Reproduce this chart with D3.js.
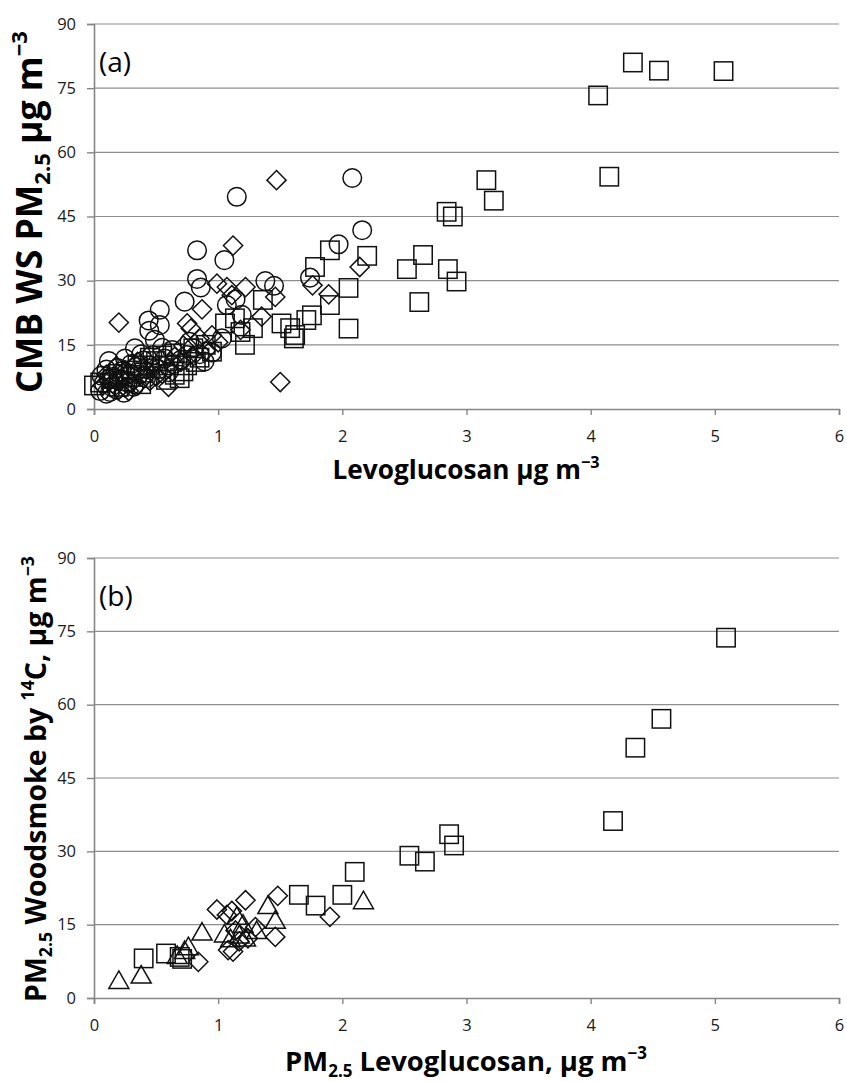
<!DOCTYPE html>
<html>
<head>
<meta charset="utf-8">
<script src="https://cdn.jsdelivr.net/npm/d3@7"></script>
<style>
  body { margin: 0; background: #fff; }
  svg text { font-family: "Open Sans", Lato, sans-serif; }
</style>
</head>
<body>
<div id="chart"></div>
<script>
// panel (a) series: CMB woodsmoke PM2.5 vs levoglucosan
var aCircles = [[1.15,49.6],[2.08,54.0],[2.16,41.8],[0.83,37.1],[1.05,34.8],[1.97,38.5],[1.74,30.7],[0.83,30.4],[0.86,28.4],
  [1.38,29.9],[1.45,28.8],[0.73,25.1],[0.53,23.2],[1.07,24.3],[1.14,25.6],[1.19,22.0],[0.44,20.7],[0.53,19.6],[0.445,18.3],
  [1.03,16.5],[0.77,15.7],[0.80,14.2],[0.89,11.1],[0.75,12.6],[0.63,13.8],[0.12,11.2],[0.10,9.2],[0.33,14.2],[0.38,12.8],
  [0.49,16.2],[0.57,11.8],[0.64,10.5],[0.45,10.2],[0.30,10.5],[0.22,8.8],[0.16,7.5],[0.08,6.0],[0.05,4.2],[0.10,3.6],
  [0.18,4.6],[0.27,6.2],[0.36,8.0],[0.42,7.2],[0.52,9.3],[0.60,8.6],[0.70,11.5],[0.95,13.2],[0.25,11.8],[0.14,5.2],
  [0.20,6.8],[0.32,5.2],[0.40,11.3],[0.85,12.8],[0.55,14.3],[0.06,7.8],[0.13,4.0],[0.24,3.8],[0.34,9.8],[0.47,12.6],
  [0.19,9.6],[0.29,8.2],[0.12,7.0]];
var aDiamonds = [[1.47,53.5],[1.12,38.2],[0.99,29.3],[1.07,28.5],[1.11,26.6],[1.22,28.5],[1.46,26.2],[2.14,33.2],[1.76,28.9],
  [1.89,26.8],[0.87,23.3],[1.35,21.6],[1.18,18.5],[0.20,20.2],[0.75,20.0],[0.78,18.8],[1.50,6.3],[0.95,17.2],[1.00,15.6],
  [0.90,13.6],[0.80,12.4],[0.70,11.0],[0.65,12.2],[0.60,9.5],[0.55,8.2],[0.50,10.2],[0.45,6.6],[0.40,7.2],[0.35,5.6],
  [0.30,6.0],[0.25,5.0],[0.20,4.5],[0.15,6.0],[0.10,8.0],[0.12,6.6],[0.22,7.2],[0.25,9.0],[0.35,11.0],[0.50,7.6],
  [0.60,5.2],[0.28,4.2],[0.42,9.2],[0.72,14.8],[0.85,16.5],[0.18,10.0],[0.07,5.5]];
var aSquares = [[5.07,79.0],[4.55,79.1],[4.34,81.0],[4.06,73.3],[4.15,54.3],[3.16,53.5],[3.22,48.7],[2.84,46.1],[2.89,45.0],
  [2.65,36.0],[2.52,32.7],[2.85,32.7],[2.92,29.8],[2.62,25.0],[1.90,37.1],[2.20,35.8],[1.78,33.2],[1.36,25.5],[1.90,24.3],
  [2.05,28.3],[1.755,21.9],[2.05,18.8],[1.51,20.0],[1.58,18.9],[1.62,17.3],[1.61,16.5],[1.71,20.8],[1.055,20.0],[1.135,21.2],
  [1.28,18.9],[1.216,15.0],[0.95,13.4],[0.69,7.2],[0.0,5.5],[0.05,6.2],[0.15,7.0],[0.20,8.2],[0.25,6.5],[0.30,9.0],
  [0.35,10.2],[0.40,8.5],[0.45,9.5],[0.50,11.2],[0.55,12.5],[0.60,10.2],[0.65,13.0],[0.72,8.8],[0.75,10.2],[0.80,14.2],
  [0.85,12.0],[0.90,15.0],[0.20,5.2],[0.30,7.5],[0.45,12.0],[0.38,5.8],[0.58,6.8],[0.65,8.0],[0.82,11.0],[1.18,18.0]];

// panel (b) series: 14C woodsmoke vs levoglucosan
var bSquares = [[0.40,8.1],[0.58,9.1],[0.69,8.4],[0.71,8.0],[1.65,21.1],[1.785,18.9],[2.00,21.1],[2.10,25.8],[2.54,29.1],
  [2.665,27.9],[2.86,33.5],[2.90,31.2],[4.18,36.2],[4.36,51.2],[4.57,57.1],[5.09,73.7]];
var bTriangles = [[0.20,3.7],[0.38,4.8],[0.67,8.8],[0.73,9.8],[0.76,10.6],[0.87,13.6],[1.05,13.2],[1.15,16.8],[1.20,15.2],
  [1.17,13.0],[1.22,12.4],[1.31,13.9],[1.40,19.0],[1.46,16.0],[2.17,20.0],[1.10,12.2]];
var bDiamonds = [[0.84,7.4],[0.99,18.1],[1.07,17.0],[1.08,9.8],[1.12,9.5],[1.22,20.0],[1.17,11.6],[1.24,12.2],[1.48,20.9],
  [1.46,12.5],[1.90,16.6],[1.14,13.8],[1.11,17.8],[1.30,14.5]];

var xTicks = [0, 1, 2, 3, 4, 5, 6];
var yTicks = [0, 15, 30, 45, 60, 75, 90];

var W = 847, H = 1082;
var svg = d3.select("#chart").append("svg")
    .attr("width", W).attr("height", H);
svg.append("rect").attr("width", W).attr("height", H).attr("fill", "#fff");

// marker shapes
var shapes = {
  circle: function(g) { g.append("circle").attr("r", 9.3); },
  square: function(g) { g.append("rect").attr("x", -9.2).attr("y", -9.2).attr("width", 18.4).attr("height", 18.4); },
  diamond: function(g) { g.append("path").attr("d", "M0,-9.6L9.6,0L0,9.6L-9.6,0Z"); },
  triangle: function(g) { g.append("path").attr("d", "M0,-9L10,8.5L-10,8.5Z"); }
};

function drawPanel(top, bottom, label, series) {
  var x = d3.scaleLinear().domain([0, 6]).range([94, 839]);
  var y = d3.scaleLinear().domain([0, 90]).range([bottom, top]);
  var g = svg.append("g");

  // gridlines
  g.append("g").selectAll("line")
    .data(yTicks.slice(1)).enter().append("line")
      .attr("x1", 94).attr("x2", 839)
      .attr("y1", function(d) { return y(d); })
      .attr("y2", function(d) { return y(d); })
      .attr("stroke", "#8e8e8e").attr("stroke-width", 1.2);

  // axes
  var yAxis = g.append("g")
    .attr("transform", "translate(94,0)")
    .call(d3.axisLeft(y).tickValues(yTicks).tickFormat(d3.format("d")).tickSize(7).tickPadding(11));
  var xAxis = g.append("g")
    .attr("transform", "translate(0," + bottom + ")")
    .call(d3.axisBottom(x).tickValues(xTicks).tickFormat(d3.format("d")).tickSize(6).tickPadding(15));
  [xAxis, yAxis].forEach(function(a) {
    a.select(".domain").attr("stroke", "#868686").attr("stroke-width", 1.6);
    a.selectAll(".tick line").attr("stroke", "#868686").attr("stroke-width", 1.4);
    a.selectAll(".tick text").attr("font-size", 16.5).attr("fill", "#1a1a1a")
      .style("font-family", "'Open Sans', Lato, sans-serif");
  });

  g.append("text").attr("x", 99).attr("y", top + 48)
    .attr("font-size", 28).attr("fill", "#000").text(label);

  series.forEach(function(s) {
    g.append("g").selectAll("g")
      .data(s.data).enter().append("g")
        .attr("transform", function(d) { return "translate(" + x(d[0]) + "," + y(d[1]) + ")"; })
        .each(function() { shapes[s.shape](d3.select(this)); })
      .selectAll("*")
        .attr("fill", "none").attr("stroke", "#111").attr("stroke-width", 1.5);
  });
}

drawPanel(24, 409, "(a)", [
  {shape: "square", data: aSquares},
  {shape: "diamond", data: aDiamonds},
  {shape: "circle", data: aCircles}
]);
drawPanel(558, 998, "(b)", [
  {shape: "square", data: bSquares},
  {shape: "diamond", data: bDiamonds},
  {shape: "triangle", data: bTriangles}
]);

// axis titles with sub/superscripts, sized to the length they take in the chart
function title(x, y, rotate, parts, targetLen) {
  var t = svg.append("text")
    .attr("transform", "translate(" + x + "," + y + ")" + (rotate ? " rotate(-90)" : ""))
    .attr("text-anchor", "middle").attr("font-weight", "bold").attr("fill", "#000");
  function build(f) {
    t.selectAll("*").remove();
    t.attr("font-size", f);
    parts.forEach(function(p) {
      var ts = t.append("tspan").text(p[0]);
      if (p[1] === "sub") ts.attr("font-size", f * 0.62).attr("dy", f * 0.22);
      if (p[1] === "sup") ts.attr("font-size", f * 0.62).attr("dy", -f * 0.42);
      if (p[1] === "back") ts.attr("dy", -f * 0.22);
      if (p[1] === "down") ts.attr("dy", f * 0.42);
    });
  }
  build(20);
  var w = t.node().getBBox().width;
  build(20 * targetLen / w);
}

title(466, 479, false, [["Levoglucosan μg m"], ["−3", "sup"]], 267);
title(42, 212, true, [["CMB WS PM"], ["2.5", "sub"], [" μg m", "back"], ["−3", "sup"]], 362);
title(466, 1071, false, [["PM"], ["2.5", "sub"], [" Levoglucosan, μg m", "back"], ["−3", "sup"]], 362);
title(46, 779, true, [["PM"], ["2.5", "sub"], [" Woodsmoke by ", "back"], ["14", "sup"], ["C, μg m", "down"], ["−3", "sup"]], 446);
</script>
</body>
</html>
